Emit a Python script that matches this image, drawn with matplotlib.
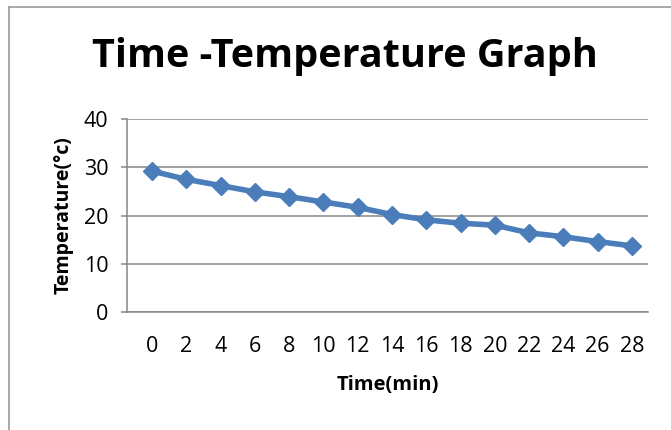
import matplotlib.pyplot as plt
from matplotlib.lines import Line2D

# data
time_min = ['0', '2', '4', '6', '8', '10', '12', '14', '16', '18', '20', '22', '24', '26', '28']
temperature = [29.2, 27.5, 26.2, 24.9, 23.9, 22.8, 21.7, 20.2, 19.1, 18.4, 18.0, 16.4, 15.6, 14.6, 13.7]
y_ticks = [0, 10, 20, 30, 40]

plt.rcParams['font.family'] = ['Open Sans', 'DejaVu Sans']
grey = '#868686'
blue = '#4A7DBA'

fig = plt.figure(figsize=(6.71, 4.30), dpi=100)
ax = fig.add_axes([127/671, 1-312/430, (648-127)/671, (312-119)/430])

x = list(range(len(time_min)))
ax.plot(x, temperature, color=blue, lw=4, marker='D', ms=9.5,
        mfc=blue, mec=blue, mew=1, solid_joinstyle='round')

ax.set_xlim(-0.73, len(time_min) - 1 + 0.47)
ax.set_ylim(0, 40)
ax.set_xticks(x)
ax.set_xticklabels(time_min)
ax.set_yticks(y_ticks)
ax.yaxis.grid(True, color=grey, lw=1.1)
ax.set_axisbelow(True)

for s in ['top', 'right']:
    ax.spines[s].set_visible(False)
ax.spines['left'].set_color(grey)
ax.spines['bottom'].set_color(grey)
ax.spines['left'].set_linewidth(1.1)
ax.spines['bottom'].set_linewidth(1.1)
ax.tick_params(axis='x', length=0, pad=17, labelsize=15.5)
ax.tick_params(axis='y', length=4.5, width=1.1, color=grey, pad=9, labelsize=15.5)

ax.set_xlabel('Time(min)', fontsize=14.5, fontweight='bold', labelpad=13)
ax.set_ylabel('Temperature(\u00b0c)', fontsize=14, fontweight='bold', labelpad=7)

fig.text(345/671, 1-57/430, 'Time -Temperature Graph', ha='center', va='center',
         fontsize=28.5, fontweight='bold')

# chart border (top and left only visible)
fig.add_artist(Line2D([9/671, 1], [1-7/430, 1-7/430], color='#9a9a9a', lw=1.2))
fig.add_artist(Line2D([9/671, 9/671], [0, 1-7/430], color='#9a9a9a', lw=1.2))

fig.savefig('out.png', dpi=100)
